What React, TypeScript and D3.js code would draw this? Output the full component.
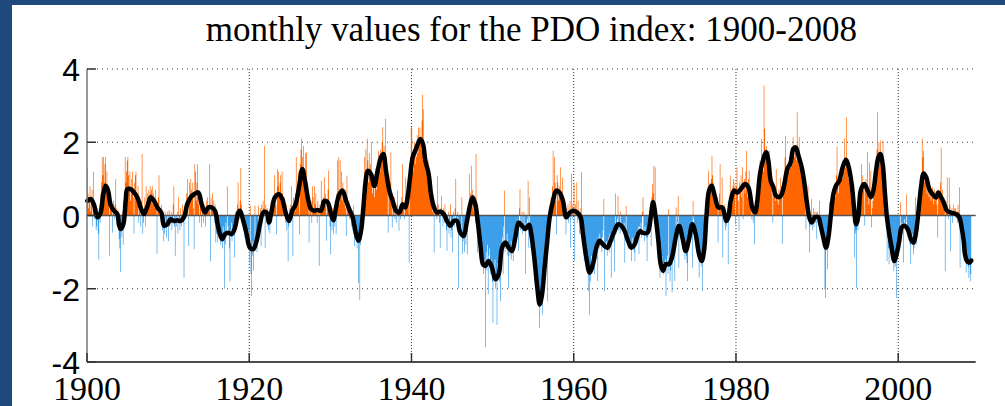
import React from 'react';
import * as d3 from 'd3';

const TITLE = 'monthly values for the PDO index: 1900-2008';
const FIRST_YEAR = 1900;
const X_TICKS = [1900, 1920, 1940, 1960, 1980, 2000];
const Y_TICKS = [-4, -2, 0, 2, 4];
const GRID_X = [1920, 1940, 1960, 1980, 2000];
const GRID_Y = [-2, 2, 4];

// monthly PDO values, one row per year (Jan..Dec), 1900..2008
const pdoMonthly: number[][] = [
  [1.3, 0.6, 0.2, 0.5, 0.8, 0.1, 0.4, 0.7, -0.3, 1.2, 0.3, -0.1],
  [0.1, -0.4, -0.3, 0.2, -0.5, -1.2, 0.3, -0.2, 0.6, 0.9, 1.6, 1.1],
  [1.6, 0.9, 1.4, 1.6, 0.7, 1.2, 0.5, 0.3, 0.8, -1.1, 0.4, 0.2],
  [0.3, -0.47, 0.2, 0.4, -0.1, 0.3, 1.0, 0.2, -0.3, 0.1, -0.4, -0.65],
  [-0.9, -1.55, -0.3, -0.6, 0.1, -0.8, 0.4, 0.6, 1.6, 0.9, 1.2, 1.5],
  [1.6, 1.1, 0.8, 1.2, 0.4, 1.0, 0.6, 1.2, 0.5, -0.5, 0.9, 1.1],
  [1.2, 0.6, 0.3, 0.8, -0.2, 0.5, 0.1, -0.3, 0.4, 1.68, -0.5, -0.2],
  [0.2, 0.5, -0.3, 0.8, 0.1, 0.6, 0.3, 0.7, 0.4, 0.8, 0.6, 0.7],
  [0.8, 0.3, 0.6, 0.5, 0.2, 0.7, 0.3, -1.05, 0.2, 0.5, 1.1, 0.0],
  [0.2, -0.1, 0.3, -0.4, -0.2, -0.7, -0.5, 0.1, -0.3, -0.6, -0.2, 0.1],
  [-0.7, 0.15, -0.3, -0.2, 0.1, -0.4, -0.1, 0.3, 0.8, -0.3, -1.1, 0.0],
  [-0.3, 0.1, -0.5, 0.5, -0.2, -0.4, 0.2, -0.3, -0.1, 0.3, -0.2, -1.7],
  [0.1, 0.3, 0.2, 0.6, 1.0, 0.4, -0.83, 0.9, 0.5, 1.0, 0.7, 0.6],
  [0.9, 0.2, -0.92, 1.4, 1.2, 0.4, 0.9, 1.4, 0.3, 0.6, -0.2, 0.5],
  [0.58, -0.33, 0.4, 0.1, -0.2, 0.3, 0.0, -0.3, 0.4, 0.2, 0.5, 0.1],
  [0.3, 1.4, -1.25, 0.5, 0.2, 0.6, 0.1, 0.4, -0.2, 0.3, -0.74, -0.5],
  [-0.3, -0.74, -0.2, -0.6, -0.4, -0.8, -0.5, -0.7, -0.9, -0.3, -0.6, -2.0],
  [-0.8, -0.2, -0.6, 0.8, -0.3, -0.5, -0.9, -1.8, -0.4, -0.2, -0.7, -0.3],
  [-0.5, -0.2, -1.15, -0.3, 0.1, -0.4, 0.3, 0.9, 0.2, -0.1, 0.4, 1.3],
  [0.3, -0.2, 0.1, -0.4, -0.1, -0.6, -0.3, -0.8, -0.5, -0.7, -0.4, -0.9],
  [-1.3, 0.27, -1.6, -2.2, -1.1, -0.7, -1.5, -0.9, 0.27, -0.8, -0.5, -1.0],
  [-0.4, 0.27, -0.3, -0.1, 0.2, -0.83, 0.3, 0.1, 0.4, 0.2, 1.9, -0.88],
  [0.3, -0.2, 0.2, -0.3, -0.4, 0.1, -0.5, 0.2, 0.4, 0.1, 0.3, 0.5],
  [0.4, 1.1, 0.6, 0.3, -0.51, 1.27, 0.8, 1.2, 0.5, 0.9, 1.1, 0.6],
  [1.2, 0.6, 0.3, 0.5, 0.1, -0.2, 0.3, -0.4, 0.1, -1.25, -0.3, 0.2],
  [0.1, 0.3, 0.8, 0.2, -1.1, 0.5, 0.4, 0.1, 0.6, 1.6, 0.3, 0.7],
  [1.2, 0.5, -0.51, 1.4, 1.8, 2.1, 1.6, 1.3, 1.9, 0.9, 1.2, 1.7],
  [1.73, 0.9, 0.6, 0.2, -0.74, 0.3, 0.1, 0.4, -0.2, 0.8, 0.5, 0.2],
  [0.8, 0.3, 0.6, 0.1, -0.2, 0.4, 0.2, -1.38, 0.3, 0.1, 0.95, 0.4],
  [0.2, 0.5, 0.3, 1.04, 0.6, 0.3, -0.69, 0.4, 0.7, 1.22, 0.1, -0.3],
  [-1.06, 0.1, -0.4, 0.2, -0.5, 0.1, -0.3, 0.2, -0.51, 0.6, 1.5, 0.4],
  [1.6, 0.3, 1.5, 0.5, 1.2, 0.4, 0.9, 0.6, 0.3, 0.7, 0.2, -0.56],
  [1.09, 0.5, 0.2, 0.4, -0.1, 0.22, 0.1, -0.3, 0.1, -0.4, 0.27, -0.83],
  [-0.3, -0.6, -0.4, -0.9, -0.5, -1.84, -0.7, -2.3, -0.8, -0.4, -0.2, 0.3],
  [0.2, 0.6, 1.6, 0.9, 1.8, 1.2, 2.1, 1.5, 0.9, 1.7, 1.1, 1.4],
  [2.0, 1.0, 0.6, 0.8, 1.13, 0.5, 0.9, 1.3, 0.7, 1.4, 1.2, 1.77],
  [1.5, 1.2, 1.8, 1.4, 2.0, 2.41, 1.6, 1.9, 1.1, 2.64, 1.3, 0.9],
  [0.8, -0.47, 1.1, 0.6, 0.9, 1.73, 0.4, -0.33, 0.3, 0.2, 0.5, -0.1],
  [0.1, -0.2, 0.3, 0.68, 0.1, -0.42, 0.2, -0.1, 0.3, 0.5, 1.4, 0.2],
  [0.3, -0.1, 0.4, 1.04, 0.2, 0.6, 0.5, 0.9, -1.29, 1.2, 1.6, 2.4],
  [2.4, 1.5, 1.2, 1.8, 2.0, 1.4, 1.9, 1.6, 2.2, 1.7, 2.4, 2.1],
  [2.4, 2.0, 1.8, 2.6, 3.3, 2.9, 1.7, 1.4, 1.9, 1.2, 1.5, 1.3],
  [1.5, 1.1, 0.9, 0.6, 0.8, 0.3, 0.5, 0.1, 0.4, -1.01, 0.3, 0.2],
  [0.2, -0.1, 1.08, 0.3, 0.1, -0.2, -0.88, 0.2, 0.54, 0.1, -0.3, 0.2],
  [-0.2, 0.31, -0.1, -0.4, -0.97, -0.2, 0.1, -0.5, -0.3, 0.31, -0.6, -0.4],
  [-1.01, -0.2, 0.1, -0.3, 0.2, 1.0, -0.1, -0.4, 0.1, -1.97, -0.2, -0.3],
  [-0.5, -0.3, 0.5, -1.06, -0.7, -0.4, -1.0, -0.6, -0.8, -0.3, -1.06, 0.2],
  [0.1, 1.13, 0.3, 0.6, 1.36, 0.2, 0.7, 0.4, 0.1, 0.5, -0.2, 1.68],
  [-0.3, -1.01, -0.2, -0.6, -0.9, -0.5, -1.2, -0.8, -1.4, -1.1, -1.6, -1.3],
  [-1.2, -3.6, -1.0, -1.5, -0.8, -2.15, -1.1, -0.9, -1.6, -1.3, -1.2, -1.8],
  [-2.93, -1.4, -1.7, -1.2, -2.0, -1.6, -2.98, -1.3, -1.5, -1.1, -1.8, -2.34],
  [-1.2, -0.9, -0.6, -1.6, -0.3, 0.68, -1.0, -0.7, -0.9, -0.5, -1.1, -1.97],
  [-0.8, -1.1, -0.9, -1.2, -0.7, -1.0, -1.24, -0.6, -0.4, -0.8, -0.3, -0.5],
  [-0.3, -0.1, -0.97, 0.2, 0.72, -0.4, -0.2, 0.1, -0.5, -0.3, 0.1, -0.4],
  [-1.6, -0.2, -0.4, -0.1, 0.95, -0.88, 0.5, -0.6, -0.9, -0.5, -1.0, -0.7],
  [-1.06, -0.9, -1.5, -1.2, -1.8, -1.4, -2.07, -1.9, -2.3, -3.07, -2.5, -2.2],
  [-2.0, -2.7, -2.2, -1.8, -1.2, -1.5, -0.9, -1.1, -0.6, -2.34, -0.4, -0.2],
  [-0.3, 0.2, 0.5, 0.1, 0.8, 1.77, 0.6, 1.59, 0.9, 0.4, -0.51, 1.1],
  [0.9, 0.4, 0.8, 0.6, 1.32, 0.5, 0.3, 1.04, 0.2, 0.4, 0.1, 0.3],
  [-0.51, 0.2, -0.1, 0.3, -0.2, 0.1, 0.4, -0.88, 1.13, -0.1, 0.3, 0.2],
  [0.86, -1.24, 0.3, 0.1, 0.9, -0.2, 0.4, -0.1, -0.51, 0.2, -0.3, 1.18],
  [-0.2, -0.6, -0.4, -1.24, -0.9, -1.3, -1.1, -1.5, -1.2, -2.07, -1.4, -2.7],
  [-1.8, -1.4, -1.1, -1.3, -1.5, -0.9, -1.6, -1.0, -0.8, -1.2, -0.7, -1.79],
  [-0.6, -0.9, -0.5, -0.8, -0.7, -1.0, -0.6, -0.4, 0.45, -2.07, -0.9, -0.8],
  [-0.7, -1.1, -0.9, -0.6, -1.0, -0.5, -0.8, -1.7, -0.6, -0.4, -0.7, -0.5],
  [-1.52, 0.6, -0.5, -0.3, -0.1, 0.54, -0.4, -0.2, -0.5, 0.1, -0.3, -0.4],
  [-0.3, -0.5, -0.2, -1.29, -0.4, 0.26, -0.7, -0.6, -0.9, -0.5, -0.8, -0.7],
  [-0.9, -1.24, -0.6, -0.8, -0.7, -1.0, -1.24, -0.5, -0.8, -0.6, -0.4, -0.3],
  [-1.06, -0.3, -0.5, -0.2, -0.6, 0.1, 0.5, -0.4, -0.7, -0.3, -0.5, -0.6],
  [-1.24, -0.6, -0.3, -0.5, 0.2, -0.1, -0.83, 0.5, 0.86, 0.6, 1.36, 0.4],
  [1.32, 0.2, -0.4, -0.2, -0.9, -0.6, -1.2, -1.7, -1.0, -1.4, -1.1, -1.3],
  [-1.61, -1.3, -1.5, -1.2, -2.2, -1.4, -1.1, -1.6, 0.17, -1.3, -1.8, -1.5],
  [-1.2, -2.1, -0.9, -1.0, -0.6, -1.79, -0.5, 0.22, -0.3, -0.2, 0.54, -1.43],
  [-0.2, -0.4, -0.6, -0.3, -0.8, -0.7, -1.0, -0.9, -1.2, -0.8, -1.1, -1.3],
  [-1.79, -0.9, -0.6, -0.4, -0.7, -0.2, -0.3, -1.43, 0.4, -0.1, -0.5, -0.3],
  [-0.4, -0.7, -0.6, -0.9, -1.1, -1.7, -1.2, -1.0, -1.4, -1.3, -2.07, -1.1],
  [-1.2, -0.8, -0.5, -0.2, 0.1, 0.4, 0.6, 1.22, 0.8, 0.9, 0.7, 1.0],
  [1.63, 1.1, 0.9, 0.6, 0.58, 0.3, 0.5, 0.2, 0.4, -0.74, 0.3, 0.6],
  [1.4, 0.3, 0.2, 1.04, -1.15, 0.1, -0.2, 0.3, -0.4, -0.3, -0.1, 0.2],
  [-1.33, 0.2, 0.5, 1.09, 0.4, 0.6, 0.3, 0.8, 1.0, 0.7, 0.9, -0.24],
  [0.8, 1.32, 0.6, 0.4, -0.42, 0.9, 0.7, 1.1, 0.5, 1.32, -0.1, 0.8],
  [1.0, 0.6, 1.2, 1.77, 0.8, 0.5, 1.0, 1.22, 0.6, 0.4, 0.2, -0.1],
  [0.3, -0.2, 0.1, -0.79, 0.2, 0.4, 0.3, 0.6, 0.8, 1.1, 1.3, 1.5],
  [1.3, 2.1, 1.4, 1.6, 1.2, 3.55, 2.37, 1.8, 1.5, 1.9, 1.6, 1.77],
  [1.2, 1.77, 0.9, 0.8, 1.1, 0.6, -0.19, 0.9, 0.7, 0.5, 0.4, 1.27],
  [0.6, 0.4, 0.3, 0.7, 0.5, 1.04, 0.6, 0.8, -0.77, 0.9, 0.7, 1.2],
  [1.59, 2.18, 1.1, 1.3, 1.0, 1.4, 1.2, 1.6, 1.3, 1.5, 1.7, 1.4],
  [2.14, 1.8, 1.6, 1.9, 1.7, 1.5, 2.82, 1.9, 1.4, 2.14, 1.3, 1.6],
  [1.2, 1.1, 1.4, 0.9, 0.7, 0.8, 0.3, -0.38, 0.2, 0.1, 0.81, 0.0],
  [-1.01, -0.3, -0.2, 0.45, -0.1, -0.4, 0.2, -0.3, 0.1, -0.2, 0.1, -0.65],
  [0.1, -0.2, 0.0, 0.4, -0.3, -0.5, -0.2, -0.7, -0.6, -0.4, -0.9, -2.02],
  [-2.25, -0.8, -0.6, -1.47, -0.5, -0.3, 0.36, -0.1, 0.2, 0.3, 0.5, 0.4],
  [0.6, 0.7, 0.9, 0.5, 1.1, 1.88, 0.8, 0.6, 1.0, 0.9, 1.2, 1.3],
  [1.4, 1.0, 1.5, 1.2, 2.1, 1.6, 1.3, 2.68, 1.5, 1.2, 1.0, 0.9],
  [0.9, 1.0, 1.22, 0.6, 0.5, 0.3, -0.2, -1.15, -0.5, -0.4, -1.97, -0.3],
  [-0.4, 0.1, -0.2, 0.3, 0.6, 1.4, 0.9, 1.1, 0.7, 0.8, -0.28, 0.9],
  [1.0, 0.6, 1.73, 0.8, 0.3, 1.45, 0.5, 1.22, -0.33, 0.2, 0.4, 0.7],
  [0.6, 0.9, 1.1, 1.4, 1.8, 2.82, 1.7, 2.0, 1.6, 2.05, 1.5, 1.3],
  [1.5, 2.05, 1.2, 0.8, 0.4, 0.2, -0.3, -1.24, -0.6, -0.9, -1.33, -0.8],
  [-0.9, -0.7, -1.1, -1.0, -1.3, -1.52, -1.2, -1.4, -1.0, -2.25, -0.9, -0.8],
  [-0.7, -0.5, -0.88, 0.36, -0.3, -0.2, -0.5, -1.29, -0.3, -0.1, -0.4, -0.2],
  [0.58, -0.4, -0.3, -0.6, -0.5, -0.8, -1.33, -0.6, -0.7, -0.5, -1.06, -0.9],
  [-0.6, 0.49, -0.8, -0.3, 0.1, -0.2, 0.4, 0.6, 0.9, 0.8, 1.1, 2.1],
  [1.6, 1.77, 1.2, 0.9, 1.0, 1.1, 0.6, 1.0, 0.7, 0.5, 0.8, 0.6],
  [0.4, 0.5, 0.77, 0.6, 0.3, 0.72, 0.4, 0.5, 0.6, 0.3, -0.6, 0.7],
  [0.5, 0.6, 0.9, 1.86, 0.4, 0.7, 0.3, 0.5, 0.2, -1.52, 0.4, 0.1],
  [1.04, 0.2, -0.1, 1.04, 0.3, -0.97, 0.1, 0.2, -0.2, 0.3, 0.1, 0.2],
  [0.2, -0.1, 0.1, -0.2, 0.3, 0.1, 0.77, -1.43, -0.2, -0.4, -0.6, -0.5],
  [-0.8, -1.24, -1.0, -1.2, -1.56, -1.1, -1.3, -1.4, -1.7, -1.2, -1.8, -1.6],
];

// smoothed curve: time (years) and value
const smoothYears = [
  1900.04, 1900.45, 1900.86, 1901.27, 1901.68, 1902.0, 1902.3, 1902.6, 1902.9, 1903.33, 1903.74, 1903.94,
  1904.15, 1904.48, 1904.77, 1904.97, 1905.38, 1905.79, 1906.2, 1906.6, 1907.0, 1907.4, 1907.85, 1908.26,
  1908.67, 1909.16, 1909.5, 1909.9, 1910.3, 1910.7, 1911.1, 1911.5, 1911.95, 1912.36, 1912.8, 1913.2,
  1913.72, 1914.13, 1914.54, 1914.95, 1915.36, 1915.78, 1916.1, 1916.39, 1916.68, 1917.0, 1917.42, 1917.83,
  1918.24, 1918.65, 1918.86, 1919.27, 1919.68, 1920.09, 1920.5, 1920.91, 1921.32, 1921.73, 1922.14, 1922.43,
  1922.76, 1923.17, 1923.66, 1924.07, 1924.49, 1924.9, 1925.3, 1925.72, 1926.13, 1926.54, 1926.87, 1927.25,
  1927.6, 1928.0, 1928.44, 1928.85, 1929.26, 1929.67, 1930.08, 1930.37, 1930.7, 1931.11, 1931.52, 1931.93,
  1932.34, 1932.75, 1933.16, 1933.45, 1933.78, 1934.07, 1934.31, 1934.6, 1935.01, 1935.42, 1935.83, 1936.24,
  1936.53, 1936.86, 1937.27, 1937.68, 1938.09, 1938.5, 1938.91, 1939.24, 1939.53, 1939.82, 1940.15, 1940.56,
  1941.09, 1941.42, 1941.71, 1942.12, 1942.41, 1942.73, 1943.15, 1943.56, 1943.97, 1944.38, 1944.79, 1945.2,
  1945.61, 1946.02, 1946.43, 1946.84, 1947.25, 1947.54, 1947.87, 1948.16, 1948.49, 1948.81, 1949.1, 1949.51,
  1949.92, 1950.33, 1950.75, 1951.16, 1951.57, 1951.98, 1952.39, 1952.8, 1953.21, 1953.62, 1954.03, 1954.5,
  1954.77, 1955.18, 1955.51, 1955.8, 1956.09, 1956.41, 1956.74, 1957.03, 1957.44, 1957.85, 1958.26, 1958.67,
  1959.08, 1959.5, 1959.91, 1960.44, 1960.85, 1961.14, 1961.55, 1961.96, 1962.37, 1962.78, 1963.19, 1963.6,
  1964.14, 1964.55, 1965.04, 1965.45, 1965.86, 1966.27, 1966.69, 1967.1, 1967.51, 1967.92, 1968.2, 1968.46,
  1969.08, 1969.49, 1969.78, 1970.1, 1970.43, 1970.72, 1971.01, 1971.34, 1971.75, 1972.16, 1972.57, 1972.98,
  1973.39, 1973.8, 1974.21, 1974.62, 1975.03, 1975.45, 1975.77, 1976.06, 1976.35, 1976.68, 1977.01, 1977.42,
  1977.83, 1978.32, 1978.81, 1979.06, 1979.35, 1979.76, 1980.17, 1980.58, 1981.11, 1981.53, 1982.0, 1982.35,
  1982.63, 1982.96, 1983.37, 1983.7, 1983.99, 1984.28, 1984.61, 1984.93, 1985.35, 1985.63, 1985.92, 1986.33,
  1986.74, 1987.07, 1987.36, 1987.69, 1988.1, 1988.39, 1988.71, 1989.04, 1989.33, 1989.74, 1990.15, 1990.44,
  1990.77, 1991.1, 1991.39, 1991.67, 1992.0, 1992.33, 1992.74, 1993.15, 1993.56, 1993.85, 1994.26, 1994.55,
  1994.8, 1995.08, 1995.4, 1995.82, 1996.23, 1996.64, 1996.97, 1997.26, 1997.55, 1997.79, 1998.08, 1998.37,
  1998.61, 1998.9, 1999.19, 1999.52, 1999.85, 2000.13, 2000.42, 2000.75, 2001.16, 2001.57, 2001.9, 2002.19,
  2002.48, 2002.81, 2003.13, 2003.46, 2003.83, 2004.24, 2004.65, 2004.94, 2005.19, 2005.6, 2006.01, 2006.5,
  2007.12, 2007.53, 2007.82, 2008.07, 2008.23, 2008.48, 2008.76, 2009.0,
];
const smoothValues = [
  0.40, 0.45, 0.30, -0.05, 0.08, 0.58, 0.81, 0.68, 0.30, 0.13, 0.04, -0.24,
  -0.37, -0.24, 0.40, 0.72, 0.72, 0.63, 0.50, 0.22, 0.04, 0.22, 0.50, 0.40,
  0.22, 0.08, -0.28, -0.24, -0.10, -0.15, -0.13, -0.15, -0.05, 0.31, 0.50, 0.58,
  0.63, 0.31, 0.08, 0.22, 0.22, 0.13, -0.24, -0.51, -0.65, -0.51, -0.47, -0.51,
  -0.33, 0.08, 0.13, -0.15, -0.51, -0.88, -0.92, -0.69, -0.24, 0.08, 0.08, -0.19,
  0.13, 0.50, 0.58, 0.45, 0.08, -0.15, 0.13, 0.31, 0.77, 1.27, 0.95, 0.45,
  0.18, 0.13, 0.15, 0.13, 0.40, 0.36, 0.04, -0.13, 0.22, 0.58, 0.68, 0.40,
  0.17, -0.05, -0.51, -0.69, -0.42, 0.22, 0.86, 1.22, 1.13, 0.81, 1.22, 1.59,
  1.68, 1.22, 0.68, 0.40, 0.13, 0.08, 0.31, 0.22, 0.50, 1.04, 1.59, 1.82,
  2.09, 1.95, 1.50, 1.13, 0.58, 0.26, 0.08, 0.11, 0.04, -0.15, -0.28, -0.15,
  -0.15, -0.47, -0.56, -0.15, 0.31, 0.50, 0.31, -0.15, -0.79, -1.33, -1.38, -1.24,
  -1.42, -1.74, -1.60, -0.88, -0.74, -0.88, -0.97, -0.60, -0.19, -0.28, -0.37, -0.25,
  -0.51, -1.24, -1.97, -2.43, -2.16, -1.42, -0.69, -0.05, 0.40, 0.68, 0.63, 0.40,
  -0.05, 0.08, 0.13, 0.08, -0.05, -0.51, -1.15, -1.56, -1.33, -0.88, -0.69, -0.79,
  -0.88, -0.69, -0.42, -0.24, -0.28, -0.42, -0.69, -0.88, -0.79, -0.51, -0.42, -0.47,
  -0.47, -0.05, 0.36, -0.05, -0.69, -1.33, -1.51, -1.33, -1.33, -1.10, -0.60, -0.28,
  -0.60, -0.97, -0.65, -0.24, -0.51, -1.06, -1.24, -0.97, -0.05, 0.68, 0.81, 0.50,
  0.22, 0.22, -0.15, -0.05, 0.40, 0.68, 0.63, 0.72, 0.86, 0.77, 0.22, 0.08,
  0.40, 1.13, 1.54, 1.73, 1.50, 0.95, 0.77, 0.54, 0.50, 0.58, 0.81, 1.27,
  1.45, 1.82, 1.86, 1.64, 1.32, 0.95, 0.40, -0.05, -0.19, -0.05, -0.05, -0.28,
  -0.60, -0.88, -0.60, -0.05, 0.58, 0.81, 0.95, 1.32, 1.52, 1.36, 0.86, 0.22,
  -0.24, -0.01, 0.70, 0.86, 0.68, 0.50, 0.72, 1.22, 1.59, 1.68, 1.41, 0.58,
  -0.05, -0.51, -0.88, -1.24, -1.01, -0.69, -0.33, -0.28, -0.37, -0.65, -0.74, -0.47,
  0.08, 0.77, 1.15, 1.04, 0.72, 0.58, 0.49, 0.63, 0.54, 0.36, 0.13, 0.08,
  0.04, -0.05, -0.33, -0.69, -1.06, -1.24, -1.29, -1.23,
];

const W = 1005;
const H = 406;
const PLOT = { left: 87, right: 975.7, top: 69, bottom: 362 };
const X_DOMAIN = [1900, 2009.55];
const Y_DOMAIN = [-4, 4];

const FRAME_BLUE = '#1e4a7e';
const ORANGE = '#ff6600';
const BLUE = '#3d9ee9';

type Pt = { t: number; v: number };

export default function App() {
  const x = d3.scaleLinear().domain(X_DOMAIN).range([PLOT.left, PLOT.right]);
  const y = d3.scaleLinear().domain(Y_DOMAIN).range([PLOT.bottom, PLOT.top]);

  const pts: Pt[] = [];
  pdoMonthly.forEach((row, i) =>
    row.forEach((v, m) => pts.push({ t: FIRST_YEAR + i + m / 12, v }))
  );
  const lastPt = pts[pts.length - 1];
  pts.push({ t: lastPt.t + 1 / 12, v: lastPt.v });

  const posArea = d3
    .area<Pt>()
    .x((d) => x(d.t))
    .y0(y(0))
    .y1((d) => y(Math.max(d.v, 0)))
    .curve(d3.curveStepAfter);
  const negArea = d3
    .area<Pt>()
    .x((d) => x(d.t))
    .y0(y(0))
    .y1((d) => y(Math.min(d.v, 0)))
    .curve(d3.curveStepAfter);

  const smooth = smoothYears.map((t, i) => ({ t, v: smoothValues[i] }));
  const line = d3
    .line<Pt>()
    .x((d) => x(d.t))
    .y((d) => y(d.v))
    .curve(d3.curveCatmullRom.alpha(0.5));

  return (
    <svg
      width={W}
      height={H}
      style={{ position: 'absolute', left: 0, top: 0, display: 'block' }}
    >
      <rect x={0} y={0} width={W} height={H} fill="#ffffff" />
      <rect x={0} y={0} width={W} height={5} fill={FRAME_BLUE} />
      <rect x={0} y={0} width={12} height={H} fill={FRAME_BLUE} />

      <text
        x={(PLOT.left + PLOT.right) / 2}
        y={41}
        textAnchor="middle"
        fontFamily="'Liberation Serif', 'Times New Roman', serif"
        fontSize={35}
        fill="#000"
      >
        {TITLE}
      </text>

      {/* grid */}
      {GRID_Y.map((v) => (
        <line
          key={'gy' + v}
          x1={PLOT.left}
          x2={PLOT.right}
          y1={y(v)}
          y2={y(v)}
          stroke="#333"
          strokeWidth={1}
          strokeDasharray="1,4"
        />
      ))}
      {GRID_X.map((t) => (
        <line
          key={'gx' + t}
          x1={x(t)}
          x2={x(t)}
          y1={PLOT.top}
          y2={PLOT.bottom}
          stroke="#333"
          strokeWidth={1}
          strokeDasharray="1,2"
        />
      ))}

      {/* bars */}
      <path d={posArea(pts) || ''} fill={ORANGE} stroke="none" />
      <path d={negArea(pts) || ''} fill={BLUE} stroke="none" />

      {/* zero line */}
      <line
        x1={PLOT.left}
        x2={PLOT.right}
        y1={y(0)}
        y2={y(0)}
        stroke="#555"
        strokeWidth={1.5}
      />

      {/* smoothed curve */}
      <path
        d={line(smooth) || ''}
        fill="none"
        stroke="#000"
        strokeWidth={4.5}
        strokeLinejoin="round"
        strokeLinecap="round"
      />

      {/* axes */}
      <line x1={PLOT.left} x2={PLOT.left} y1={PLOT.top} y2={PLOT.bottom} stroke="#777" strokeWidth={1.5} />
      <line x1={PLOT.left} x2={PLOT.right} y1={PLOT.bottom} y2={PLOT.bottom} stroke="#111" strokeWidth={1.5} />
      {Y_TICKS.map((v) => (
        <g key={'yt' + v}>
          <line x1={PLOT.left} x2={PLOT.left + 9} y1={y(v)} y2={y(v)} stroke="#333" strokeWidth={1.5} />
          <text
            x={80}
            y={y(v) + 12}
            textAnchor="end"
            fontFamily="'Liberation Sans', Arial, sans-serif"
            fontSize={32}
            fill="#000"
          >
            {v}
          </text>
        </g>
      ))}
      {X_TICKS.map((t) => (
        <g key={'xt' + t}>
          <line x1={x(t)} x2={x(t)} y1={PLOT.bottom} y2={PLOT.bottom - 9} stroke="#333" strokeWidth={1.5} />
          <text
            x={x(t)}
            y={400}
            textAnchor="middle"
            fontFamily="'Liberation Serif', 'Times New Roman', serif"
            fontSize={34}
            fill="#000"
          >
            {t}
          </text>
        </g>
      ))}
    </svg>
  );
}
